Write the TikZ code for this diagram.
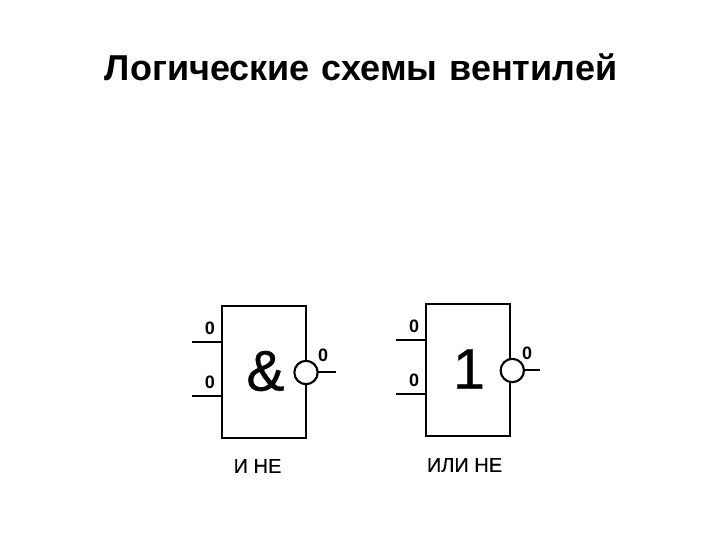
\documentclass[tikz,border=0pt]{standalone}
\usepackage{fontspec}
\setmainfont{Liberation Sans}
\newfontfamily\heavyfont[FakeBold=0.6]{Liberation Sans}
\newfontfamily\midfont[FakeBold=0.25]{Liberation Sans}
\tikzset{
  gatebox/.style={draw=black,line width=1.5pt,fill=white,minimum width=63.4pt,minimum height=99.5pt,inner sep=0pt,outer sep=0pt},
  bubble/.style={circle,draw=black,line width=1.6pt,fill=white,minimum size=17.5pt,inner sep=0pt,outer sep=0pt},
  wire/.style={line width=1.3pt,black},
  bit/.style={font=\bfseries\fontsize{13.5}{15}\selectfont,inner sep=0pt,text=black},
  caption/.style={font=\midfont\fontsize{15}{17}\selectfont,inner sep=0pt,text=black},
  symb/.style={font=\heavyfont\fontsize{43}{47}\selectfont,inner sep=0pt,text=black}
}
\begin{document}
\begin{tikzpicture}[x=0.75pt,y=-0.75pt]
\useasboundingbox (0,0) rectangle (720,540);
\node[font=\bfseries\fontsize{27}{31}\selectfont,inner sep=0pt] (title) at (361,67) {Логические\hspace{1.5pt} схемы\hspace{1.5pt} вентилей};
% AND-NOT
\node[gatebox] (g1) at (264,372) {};
\node[symb] (amp) at (265.5,371) {\&};
\node[bubble] (b1) at (306,372.5) {};
\coordinate (i1a) at (192,341.7);
\coordinate (i1b) at (192,395.7);
\coordinate (o1) at (336,372);
\draw[wire] (i1a) -- (i1a -| g1.west);
\draw[wire] (i1b) -- (i1b -| g1.west);
\draw[wire] (b1.east |- o1) -- (o1);
\node[bit] (t1) at (210,328) {0};
\node[bit] (t2) at (210,382) {0};
\node[bit] (t3) at (323,355) {0};
\node[caption] (c1) at (257.5,466) {И НЕ};
% OR-NOT
\node[gatebox] (g2) at (468,370) {};
\node[symb] (one) at (469,369) {1};
\node[bubble] (b2) at (512.3,370.5) {};
\coordinate (i2a) at (396,339.7);
\coordinate (i2b) at (396,394);
\coordinate (o2) at (540,369.7);
\draw[wire] (i2a) -- (i2a -| g2.west);
\draw[wire] (i2b) -- (i2b -| g2.west);
\draw[wire] (b2.east |- o2) -- (o2);
\node[bit] (t4) at (414,326) {0};
\node[bit] (t5) at (414,380) {0};
\node[bit] (t6) at (527,353) {0};
\node[caption] (c2) at (464.5,465) {ИЛИ НЕ};
\end{tikzpicture}
\end{document}
